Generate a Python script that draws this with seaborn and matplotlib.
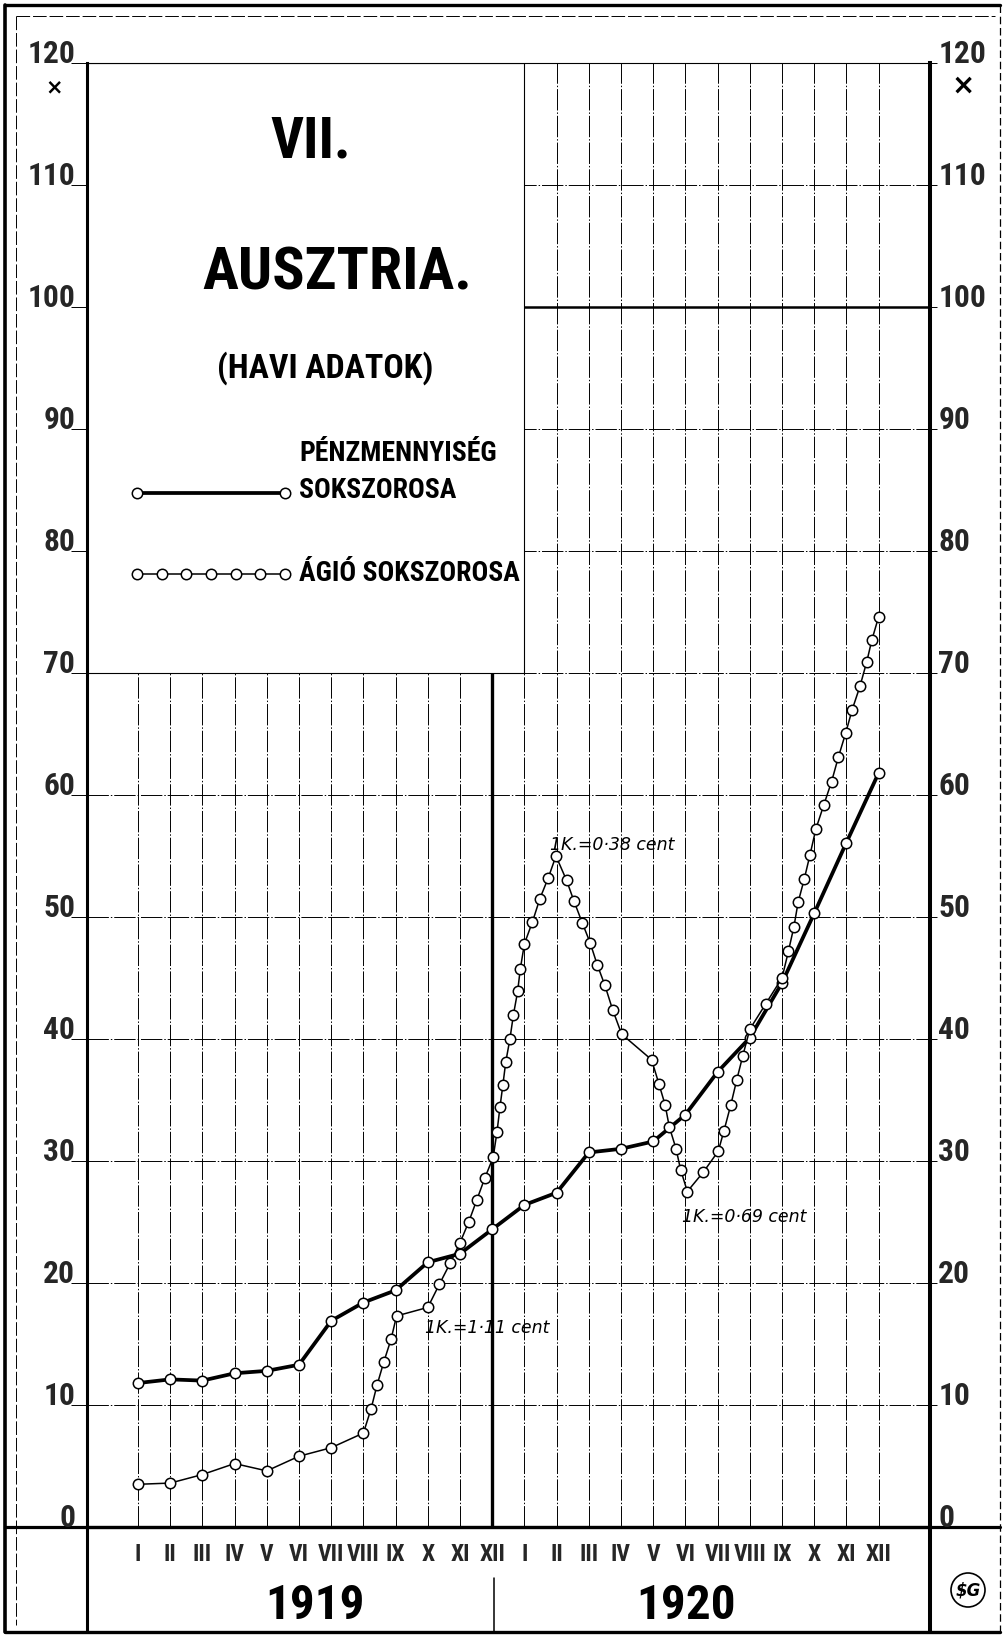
import matplotlib
matplotlib.use('Agg')
import matplotlib.pyplot as plt
from matplotlib import font_manager
from matplotlib.font_manager import FontProperties
from matplotlib.textpath import TextPath
from matplotlib.legend_handler import HandlerLine2D
from matplotlib.patches import Rectangle, Circle
import pandas as pd
import seaborn as sns

# ---------------------------------------------------------------------------
# Data (month index 0 = I 1919, 23 = XII 1920)

roman = ['I', 'II', 'III', 'IV', 'V', 'VI', 'VII', 'VIII', 'IX', 'X', 'XI', 'XII']
month_labels = roman + roman
years = ['1919', '1920']
y_ticks = [0, 10, 20, 30, 40, 50, 60, 70, 80, 90, 100, 110, 120]

# Pénzmennyiség sokszorosa (monthly)
money_month = list(range(24))
money_value = [11.8, 12.1, 12.0, 12.6, 12.8, 13.3, 16.9, 18.4, 19.4, 21.7, 22.4, 24.4,
               26.4, 27.4, 30.7, 31.0, 31.6, 33.8, 37.3, 40.1, 44.6, 50.3, 56.1, 61.8]

# Ágió sokszorosa (every circle drawn on the original, fractional month positions)
agio_month = [0, 1, 2, 3, 4, 5, 6, 7,
              7.24, 7.42, 7.63, 7.86, 8.03,
              9.0, 9.36, 9.69, 10.0, 10.27, 10.52, 10.77, 11.03,
              11.15, 11.24, 11.33, 11.42, 11.55, 11.66, 11.79, 11.87, 12.0,
              12.25, 12.48, 12.74, 12.98,
              13.31, 13.54, 13.8, 14.04, 14.26, 14.5, 14.74, 15.02,
              15.95, 16.18, 16.37, 16.5, 16.71, 16.85, 17.06,
              17.56, 18.02, 18.2, 18.41, 18.59, 18.78, 19.0,
              19.5, 20.0, 20.2, 20.37, 20.5, 20.69, 20.87, 21.05,
              21.3, 21.54, 21.75, 21.98, 22.18, 22.42, 22.63, 22.79, 23.0]
agio_value = [3.5, 3.6, 4.3, 5.2, 4.6, 5.8, 6.5, 7.7,
              9.7, 11.6, 13.5, 15.4, 17.3,
              18.0, 19.9, 21.6, 23.3, 25.0, 26.8, 28.6, 30.3,
              32.4, 34.4, 36.2, 38.1, 40.0, 42.0, 43.9, 45.7, 47.8,
              49.6, 51.5, 53.2, 55.0,
              53.0, 51.3, 49.5, 47.9, 46.1, 44.4, 42.4, 40.4,
              38.3, 36.3, 34.6, 32.8, 31.0, 29.3, 27.5,
              29.1, 30.8, 32.5, 34.6, 36.6, 38.6, 40.8,
              42.9, 45.0, 47.2, 49.2, 51.2, 53.1, 55.1, 57.2,
              59.2, 61.1, 63.1, 65.1, 67.0, 68.9, 70.9, 72.7, 74.6]

money_df = pd.DataFrame({'month': money_month, 'value': money_value})
agio_df = pd.DataFrame({'month': agio_month, 'value': agio_value})

# ---------------------------------------------------------------------------
# Fonts: the original uses tall, narrow lettering, so take a narrow face if one
# is installed and size every label by its width on the original

sns.set_theme(style='white')

entries = font_manager.fontManager.ttflist
names = {f.name for f in entries}
COND, STRETCH = 'DejaVu Sans', 'normal'
for n in ['Liberation Sans Narrow', 'Arial Narrow', 'DejaVu Sans Condensed',
          'Noto Sans Condensed', 'Roboto Condensed', 'Open Sans Condensed']:
    if n in names:
        COND = n
        break
else:
    for f in entries:
        if 'condensed' in str(f.stretch) and f.name in ('DejaVu Sans', 'Noto Sans', 'Roboto', 'Open Sans'):
            COND, STRETCH = f.name, 'condensed'
            break

plt.rcParams['font.family'] = [COND, 'DejaVu Sans']
plt.rcParams['font.stretch'] = STRETCH
plt.rcParams['text.color'] = 'black'

bold = FontProperties(family=COND, weight='bold', stretch=STRETCH)
CAP = TextPath((0, 0), 'H', size=100, prop=bold).get_extents().height


def fit(text, width_px, cap_px):
    # font size in points that gives the text this width (or this cap height)
    w = TextPath((0, 0), text, size=100, prop=bold).get_extents().width
    return min(100 * width_px / w, 100 * cap_px / CAP) * 0.72


W, H = 1005, 1639
fig = plt.figure(figsize=(W / 100, H / 100), dpi=100)
fig.patch.set_facecolor('white')

# background frame in pixel units (border, bottom box, corner marks)
frame = fig.add_axes([0, 0, 1, 1])
frame.set_xlim(0, W)
frame.set_ylim(H, 0)
frame.axis('off')
px = frame.transData

frame.plot([5, 1000], [5, 5], color='black', lw=2.4)
frame.plot([5, 5], [5, 1632], color='black', lw=2.6)
frame.plot([5, 1000], [1632, 1632], color='black', lw=2.4)
frame.plot([1000, 1000], [5, 1632], color='black', lw=0.9, ls=(0, (6, 3)))
frame.plot([16, 995], [16, 16], color='black', lw=0.7, ls=(0, (14, 3)))
frame.plot([16, 16], [16, 1625], color='black', lw=0.7, ls=(0, (14, 3)))

# bottom box: zero line over the full width, axes carried down, year divider
frame.plot([5, 1000], [1527, 1527], color='black', lw=2.3)
frame.plot([87, 87], [1527, 1632], color='black', lw=2.2)
frame.plot([930, 930], [1527, 1632], color='black', lw=2.9)
frame.plot([494, 494], [1578, 1632], color='black', lw=1.1)

frame.add_patch(Circle((968, 1590), 17, fill=False, ec='black', lw=1.2))
frame.text(968, 1591, r'\$G', ha='center', va='center', fontsize=12,
           fontweight='bold', fontstyle='italic', family='DejaVu Sans')

# ---------------------------------------------------------------------------
# Main chart area

ax = fig.add_axes([87 / W, (H - 1527) / H, (930 - 87) / W, (1527 - 63) / H])
ax.set_facecolor('none')

sns.lineplot(data=money_df, x='month', y='value', ax=ax, estimator=None, sort=False,
             color='black', linewidth=2.7, marker='o', markersize=7.5,
             markerfacecolor='white', markeredgecolor='black', markeredgewidth=1.1,
             zorder=3)
money_line = ax.lines[-1]
sns.lineplot(data=agio_df, x='month', y='value', ax=ax, estimator=None, sort=False,
             color='black', linewidth=1.1, marker='o', markersize=7.5,
             markerfacecolor='white', markeredgecolor='black', markeredgewidth=1.1,
             zorder=3)
agio_line = ax.lines[-1]

xmin, xmax = (87 - 138) / 32.2, (930 - 138) / 32.2
ax.set_xlim(xmin, xmax)
ax.set_ylim(0, 120)
ax.set_xlabel('')
ax.set_ylabel('')

month_size = fit('VIII', 31, 24)
num_size = fit('120', 44, 23)

ax.set_xticks(money_month)
ax.set_xticklabels(month_labels, fontsize=month_size, fontweight='bold')
ax.set_yticks(y_ticks)
ax.set_yticklabels([str(v) for v in y_ticks], fontsize=num_size, fontweight='bold')
ax.tick_params(axis='x', direction='out', length=11.5, width=0.7, pad=0, color='black')
ax.tick_params(axis='y', direction='out', length=11.5, width=0.7, pad=-3, color='black')
for lab in ax.get_yticklabels():
    lab.set_verticalalignment('baseline')

ax.set_axisbelow(True)
ax.grid(True, color='black', linewidth=0.7, linestyle=(0, (22, 2, 1.5, 2)))

for side, lw in [('left', 2.2), ('right', 2.9), ('bottom', 2.3), ('top', 0.8)]:
    ax.spines[side].set_color('black')
    ax.spines[side].set_linewidth(lw)

# thick year divider and the thick 100 line
ax.axvline(11, color='black', lw=2.4, zorder=0.8)
ax.hlines(100, 12, xmax, color='black', lw=1.8, zorder=0.8)

# white title box over the upper left
ax.add_patch(Rectangle((xmin, 70), 12 - xmin, 50, facecolor='white', edgecolor='black',
                       lw=0.8, zorder=1))

ax.text(311, 158, 'VII.', transform=px, ha='center', va='baseline',
        fontsize=fit('VII.', 76, 46), fontweight='bold', zorder=4)
ax.text(337, 290, 'AUSZTRIA.', transform=px, ha='center', va='baseline',
        fontsize=fit('AUSZTRIA.', 265, 53), fontweight='bold', zorder=4)
ax.text(325, 378, '(HAVI ADATOK)', transform=px, ha='center', va='baseline',
        fontsize=fit('(HAVI ADATOK)', 213, 28), fontweight='bold', zorder=4)

# legend, sized in pixels of the original
leg_size = fit('PÉNZMENNYISÉG', 194, 22)
fs = leg_size / 0.72
leg = ax.legend([money_line, agio_line],
                ['PÉNZMENNYISÉG\nSOKSZOROSA\n', 'ÁGIÓ SOKSZOROSA'],
                handler_map={money_line: HandlerLine2D(numpoints=2),
                             agio_line: HandlerLine2D(numpoints=7)},
                loc='upper left',
                bbox_to_anchor=((137 - 0.3 * fs) / W, 1 - (466 - 0.95 * fs) / H),
                bbox_transform=fig.transFigure, frameon=False, borderpad=0,
                borderaxespad=0, handlelength=(148 + 0.6 * fs) / fs, handleheight=0.2,
                handletextpad=max(0.05, (299 - 285 - 0.3 * fs) / fs),
                labelspacing=max(0.1, 19 / fs),
                prop=dict(family=COND, weight='bold', size=leg_size, stretch=STRETCH))
leg.set_zorder(5)
leg.get_texts()[0].set_linespacing(max(1.2, (38 / fs - 0.24) / 0.76))

# exchange-value notes
note_font = dict(family='DejaVu Sans', style='italic', fontsize=12.5, zorder=4)
ax.text(8.9, 15.9, '1K.=1·11 cent', va='baseline', **note_font)
ax.text(12.8, 55.5, '1K.=0·38 cent', va='baseline', **note_font)
ax.text(16.9, 25.0, '1K.=0·69 cent', va='baseline', **note_font)

# right hand scale
ax2 = ax.twinx()
ax2.set_ylim(0, 120)
ax2.set_yticks(y_ticks)
ax2.set_yticklabels([str(v) for v in y_ticks], fontsize=num_size, fontweight='bold')
ax2.tick_params(axis='y', direction='out', length=5, width=0.7, pad=1, color='black')
for lab in ax2.get_yticklabels():
    lab.set_verticalalignment('baseline')
for side in ax2.spines:
    ax2.spines[side].set_visible(False)

# "x" marks under the top values
frame.text(54, 93, '×', ha='center', va='baseline', fontsize=15, fontweight='bold',
           family='DejaVu Sans')
frame.text(963, 94, '×', ha='center', va='baseline', fontsize=20, fontweight='bold',
           family='DejaVu Sans')

# years
year_size = fit('1919', 93, 41)
frame.text(315, 1619, years[0], ha='center', va='baseline', fontsize=year_size, fontweight='bold')
frame.text(686, 1619, years[1], ha='center', va='baseline', fontsize=year_size, fontweight='bold')

fig.savefig('out.png', dpi=100, facecolor='white')
